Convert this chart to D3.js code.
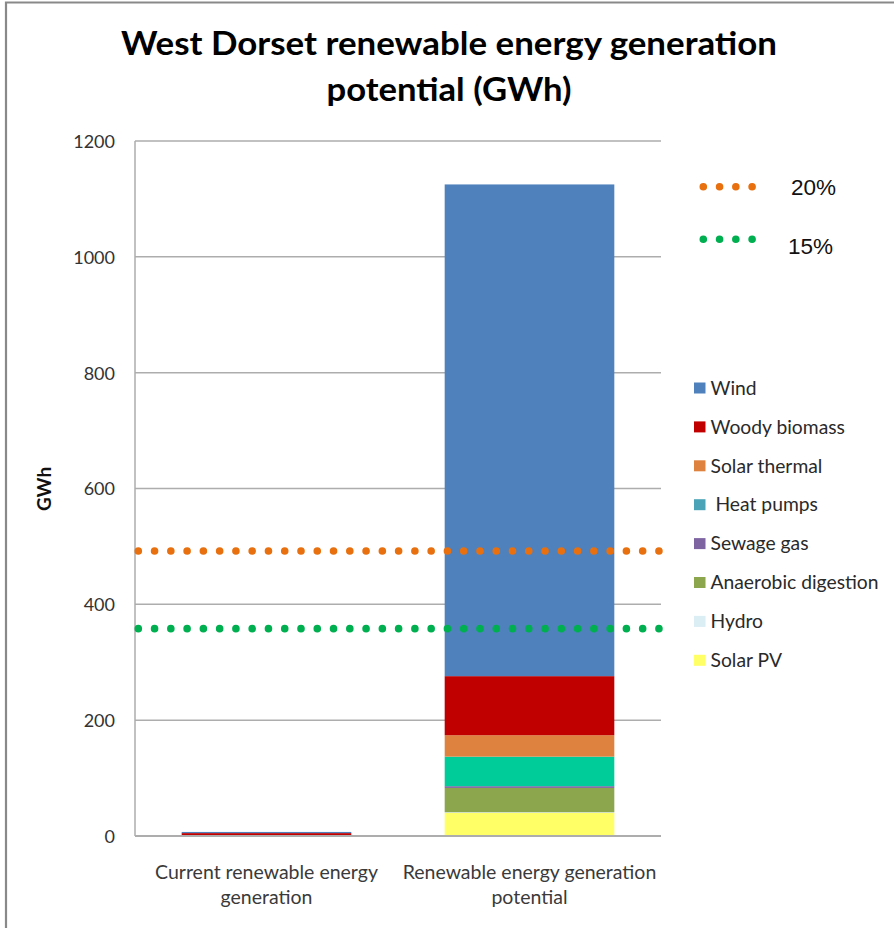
<!DOCTYPE html>
<html><head><meta charset="utf-8">
<script src="https://cdn.jsdelivr.net/npm/d3@7"></script>
<style>
html,body{margin:0;padding:0;background:#fff;}
svg{display:block;}
</style></head>
<body>
<script>
// ---- data ----
const categories = ["Current renewable energy generation", "Renewable energy generation potential"];
const categoryLines = [["Current renewable energy", "generation"], ["Renewable energy generation", "potential"]];
const seriesNames = ["Solar PV", "Hydro", "Anaerobic digestion", "Sewage gas", "Heat pumps", "Solar thermal", "Woody biomass", "Wind"];
const currentValues   = [0, 0, 0, 0, 0, 0, 5, 2];
const potentialValues = [40, 1, 42, 3, 51, 37, 102, 849];
const legendLabels = ["Solar PV", "Hydro", "Anaerobic digestion", "Sewage gas", " Heat pumps", "Solar thermal", "Woody biomass", "Wind"];
const barColors    = ["#FFFF66", "#DAEEF3", "#8BA64C", "#7F64A2", "#00CC99", "#DE833F", "#C00000", "#4F81BD"];
const legendColors = ["#FFFF66", "#DAEEF3", "#8BA64C", "#7F64A2", "#4BA3B8", "#DE833F", "#C00000", "#4F81BD"];
const targetLabels = ["20%", "15%"];
const targetValues = [492, 358];
const targetColors = ["#E8700E", "#00B050"];
const yTicks = [0, 200, 400, 600, 800, 1000, 1200];
const titleLines = ["West Dorset renewable energy generation", "potential (GWh)"];

// ---- layout ----
const W = 894, H = 928;
const plot = {left: 135, right: 661, top: 141, bottom: 836};
const FONT = "Lato, 'Open Sans', sans-serif";

const svg = d3.select("body").append("svg").attr("width", W).attr("height", H);
svg.append("rect").attr("width", W).attr("height", H).attr("fill", "#fff");
svg.append("path").attr("d", `M6,${H+5} L6,2.5 L${W+5},2.5`).attr("fill", "none")
  .attr("stroke", "#898989").attr("stroke-width", 2.2);

const x = d3.scaleBand().domain(categories).range([plot.left, plot.right])
  .paddingInner(0.355).paddingOuter(0.1775);
const y = d3.scaleLinear().domain([0, 1200]).range([plot.bottom, plot.top]);

// gridlines
svg.append("g").selectAll("line").data(yTicks.filter(d => d > 0)).join("line")
  .attr("x1", plot.left).attr("x2", plot.right)
  .attr("y1", d => y(d)).attr("y2", d => y(d))
  .attr("stroke", "#ADADAD").attr("stroke-width", 1.5);

// stacked bars
const rows = categories.map((c, i) => {
  const o = {cat: c};
  seriesNames.forEach((s, j) => o[s] = (i === 0 ? currentValues : potentialValues)[j]);
  return o;
});
const stacked = d3.stack().keys(seriesNames)(rows);
svg.append("g").selectAll("g").data(stacked).join("g")
  .attr("fill", (d, i) => barColors[i])
  .selectAll("rect").data(d => d).join("rect")
  .attr("x", d => x(d.data.cat))
  .attr("width", x.bandwidth())
  .attr("y", d => y(d[1]))
  .attr("height", d => Math.max(0, y(d[0]) - y(d[1])));

// axes
svg.append("line").attr("x1", plot.left).attr("x2", plot.left).attr("y1", plot.top).attr("y2", plot.bottom)
  .attr("stroke", "#ADADAD").attr("stroke-width", 1.5);
svg.append("line").attr("x1", plot.left).attr("x2", plot.right).attr("y1", y(0)).attr("y2", y(0))
  .attr("stroke", "#ADADAD").attr("stroke-width", 1.8);

const yAxis = d3.axisLeft(y).tickValues(yTicks).tickFormat(d3.format("d")).tickSize(0).tickPadding(20);
const ya = svg.append("g").attr("transform", `translate(${plot.left},0)`).call(yAxis);
ya.select(".domain").remove();
ya.selectAll("text").attr("font-family", FONT).attr("font-size", 18)
  .attr("fill", "#333").attr("dy", "0.36em");

// y title
svg.append("text").attr("transform", `translate(51,489) rotate(-90)`)
  .attr("text-anchor", "middle").attr("font-family", FONT).attr("font-weight", "bold")
  .attr("font-size", 19).attr("fill", "#111").text("GWh");

// x labels
categories.forEach((c, i) => {
  const t = svg.append("text").attr("text-anchor", "middle")
    .attr("font-family", FONT).attr("font-size", 19.5).attr("fill", "#3a3a3a");
  categoryLines[i].forEach((ln, k) => {
    t.append("tspan").attr("x", x(c) + x.bandwidth() / 2).attr("y", 879 + k * 25).text(ln);
  });
});

// target dotted lines
const dotSpacing = 16.27;
targetValues.forEach((v, i) => {
  svg.append("line").attr("x1", 138.3).attr("x2", 660).attr("y1", y(v)).attr("y2", y(v))
    .attr("stroke", targetColors[i]).attr("stroke-width", 7.6).attr("stroke-linecap", "round")
    .attr("stroke-dasharray", `0 ${dotSpacing}`);
});

// target legend
const tLeg = [{y: 186.7, ty: 195}, {y: 239.3, ty: 254}];
targetLabels.forEach((lab, i) => {
  svg.append("line").attr("x1", 703.3).attr("x2", 753).attr("y1", tLeg[i].y).attr("y2", tLeg[i].y)
    .attr("stroke", targetColors[i]).attr("stroke-width", 7.6).attr("stroke-linecap", "round")
    .attr("stroke-dasharray", `0 ${dotSpacing}`);
  svg.append("text").attr("x", i === 0 ? 791 : 788).attr("y", tLeg[i].ty)
    .attr("font-family", "'Liberation Sans', Arial, sans-serif").attr("font-size", 22.5)
    .attr("fill", "#111").text(lab);
});

// series legend (top = Wind)
const legOrder = d3.range(seriesNames.length).reverse();
const lg = svg.append("g");
legOrder.forEach((j, k) => {
  const cy = 388 + k * 38.9;
  lg.append("rect").attr("x", 694).attr("y", cy - 5.5).attr("width", 11.5).attr("height", 11)
    .attr("fill", legendColors[j]);
  lg.append("text").attr("x", 710.5).attr("y", cy).attr("dy", "0.35em")
    .attr("font-family", FONT).attr("font-size", 19.3)
    .attr("fill", "#2a2a2a").attr("xml:space", "preserve").style("white-space", "pre").text(legendLabels[j]);
});

// title
const tt = svg.append("text").attr("text-anchor", "middle")
  .attr("font-family", FONT).attr("font-weight", "bold")
  .attr("font-size", 33).attr("fill", "#000").attr("lengthAdjust", "spacingAndGlyphs");
tt.append("tspan").attr("x", 449).attr("y", 55).attr("textLength", 656).attr("lengthAdjust", "spacingAndGlyphs").text(titleLines[0]);
tt.append("tspan").attr("x", 449).attr("y", 101).attr("textLength", 245).attr("lengthAdjust", "spacingAndGlyphs").text(titleLines[1]);
</script>
</body></html>
